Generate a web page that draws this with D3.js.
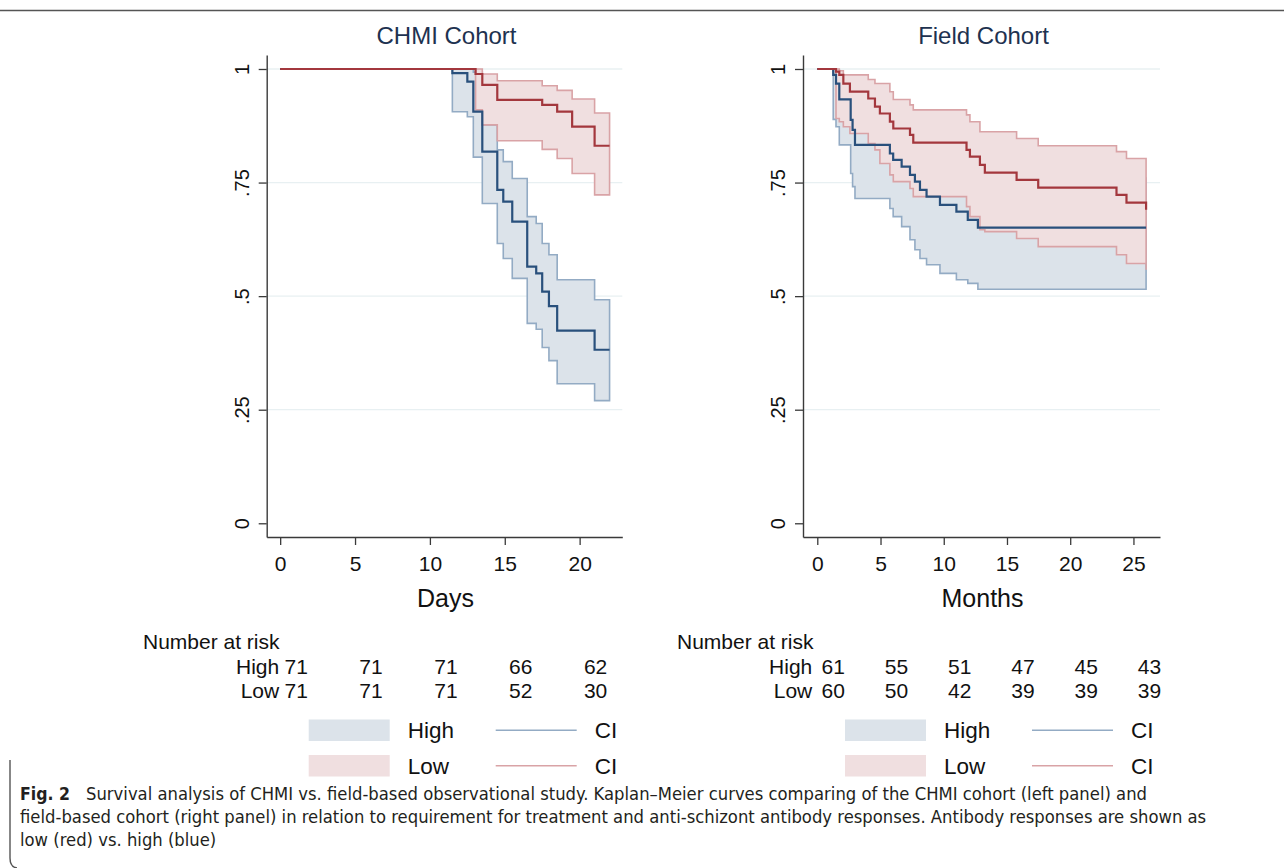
<!DOCTYPE html>
<html>
<head>
<meta charset="utf-8">
<title>Kaplan-Meier curves, CHMI vs field cohort</title>
<script src="https://d3js.org/d3.v7.min.js"></script>
<style>
  body { margin: 0; background: #fff; }
  svg text { font-family: "Liberation Sans", Arial, sans-serif; fill: #111; }
  .caption { font-family: "Liberation Sans Narrow", "DejaVu Sans Condensed", "Liberation Sans", sans-serif; fill: #231f20; }
</style>
</head>
<body>
<script>
// ---- CHMI cohort (days) ----
const chmiTicks = [0, 5, 10, 15, 20];
const chmiEnd = 22;
const chmiHighTime  = [0, 11.5, 12.5, 12.9, 13.5, 14.5, 14.9, 15.5, 16.5, 17.1, 17.5, 17.95, 18.5, 21];
const chmiHighSurv  = [1, 0.991, 0.972, 0.906, 0.818, 0.734, 0.708, 0.664, 0.565, 0.550, 0.510, 0.478, 0.424, 0.382];
const chmiHighUpper = [1, 1, 1, 0.993, 0.877, 0.822, 0.796, 0.759, 0.675, 0.660, 0.616, 0.591, 0.536, 0.492];
const chmiHighLower = [1, 0.906, 0.895, 0.806, 0.704, 0.616, 0.583, 0.539, 0.440, 0.427, 0.387, 0.358, 0.307, 0.270];
const chmiLowTime  = [0, 13.05, 13.5, 14.5, 17.5, 18.5, 19.5, 21];
const chmiLowSurv  = [1, 0.989, 0.965, 0.932, 0.921, 0.906, 0.873, 0.831];
const chmiLowUpper = [1, 1, 0.989, 0.974, 0.963, 0.953, 0.934, 0.903];
const chmiLowLower = [1, 0.91, 0.877, 0.842, 0.823, 0.803, 0.770, 0.723];
const chmiRiskHigh = [71, 71, 71, 66, 62];
const chmiRiskLow  = [71, 71, 71, 52, 30];

// ---- Field cohort (months) ----
const fieldTicks = [0, 5, 10, 15, 20, 25];
const fieldEnd = 26;
const fieldHighTime  = [0, 1.26, 1.48, 1.74, 2.64, 2.79, 2.98, 5.74, 6.0, 6.67, 7.33, 7.72, 8.12, 8.64, 9.7, 11.0, 11.9, 12.7];
const fieldHighSurv  = [1, 0.987, 0.968, 0.933, 0.888, 0.866, 0.833, 0.814, 0.800, 0.785, 0.767, 0.752, 0.734, 0.719, 0.701, 0.686, 0.668, 0.651];
const fieldHighUpper = [1, 1, 0.998, 0.98, 0.95, 0.935, 0.91, 0.895, 0.885, 0.872, 0.857, 0.845, 0.83, 0.818, 0.802, 0.79, 0.775, 0.76];
const fieldHighLower = [1, 0.889, 0.873, 0.833, 0.770, 0.741, 0.715, 0.693, 0.675, 0.653, 0.624, 0.602, 0.583, 0.569, 0.550, 0.536, 0.528, 0.515];
const fieldLowTime  = [0, 1.48, 1.74, 2.06, 2.58, 4.03, 4.56, 4.95, 5.74, 6.01, 7.33, 7.59, 11.8, 12.07, 12.86, 13.25, 15.76, 17.47, 23.66, 24.45, 26.0];
const fieldLowSurv  = [1, 0.994, 0.987, 0.968, 0.950, 0.935, 0.917, 0.902, 0.884, 0.869, 0.855, 0.838, 0.822, 0.807, 0.789, 0.772, 0.756, 0.739, 0.723, 0.706, 0.690];
const fieldLowUpper = [1, 1, 0.996, 0.987, 0.987, 0.977, 0.968, 0.968, 0.950, 0.933, 0.921, 0.910, 0.899, 0.884, 0.862, 0.862, 0.847, 0.831, 0.818, 0.803, 0.792];
const fieldLowLower = [1, 0.891, 0.884, 0.873, 0.858, 0.836, 0.822, 0.792, 0.767, 0.752, 0.737, 0.719, 0.697, 0.675, 0.646, 0.642, 0.627, 0.609, 0.591, 0.572, 0.558];
const fieldRiskHigh = [61, 55, 51, 47, 45, 43];
const fieldRiskLow  = [60, 50, 42, 39, 39, 39];

const yTicks = [0, 0.25, 0.5, 0.75, 1];
const gridTicks = [0.25, 0.5, 0.75, 1];

const captionLines = [
  "Survival analysis of CHMI vs. field-based observational study.  Kaplan\u2013Meier curves comparing of the CHMI cohort (left panel) and",
  "field-based cohort (right panel) in relation to requirement for treatment and anti-schizont antibody responses. Antibody responses are shown as",
  "low (red) vs. high (blue)"
];

// colours
const blueLine = "#29507c", redLine = "#a3373d";
const blueCI = "#93abc4", redCI = "#d9a3a6";
const blueFill = "#dce3ea", redFill = "#f0dfe0";

const svg = d3.select("body").append("svg")
  .attr("width", 1284).attr("height", 868);

// join step series
function series(time, surv, upper, lower, end) {
  const pts = time.map((t, i) => ({t: t, s: surv[i], hi: upper[i], lo: lower[i]}));
  const last = pts[pts.length - 1];
  if (last.t < end) pts.push({t: end, s: last.s, hi: last.hi, lo: last.lo});
  return pts;
}

const panels = [
  {
    title: "CHMI Cohort", xTitle: "Days", ticks: chmiTicks,
    xDomain: [-0.9, 22.85], xRange: [266.7, 622.3], riskLabelDx: -1, tableX: 143,
    high: series(chmiHighTime, chmiHighSurv, chmiHighUpper, chmiHighLower, chmiEnd),
    low: series(chmiLowTime, chmiLowSurv, chmiLowUpper, chmiLowLower, chmiEnd),
    riskHigh: chmiRiskHigh, riskLow: chmiRiskLow
  },
  {
    title: "Field Cohort", xTitle: "Months", ticks: fieldTicks,
    xDomain: [-1.13, 27.1], xRange: [803, 1160], riskLabelDx: -5, tableX: 677,
    high: series(fieldHighTime, fieldHighSurv, fieldHighUpper, fieldHighLower, fieldEnd),
    low: series(fieldLowTime, fieldLowSurv, fieldLowUpper, fieldLowLower, fieldEnd),
    riskHigh: fieldRiskHigh, riskLow: fieldRiskLow
  }
];

// y: 0 at 523.3, 1 at 69, axis runs 537 -> 55
const y = d3.scaleLinear().domain([-0.0302, 1.0308]).range([537, 55]);

panels.forEach(function(p) {
  const x = d3.scaleLinear().domain(p.xDomain).range(p.xRange);
  const x0 = p.xRange[0];
  const g = svg.append("g");

  // gridlines
  g.selectAll(".grid").data(gridTicks).enter().append("line")
    .attr("x1", x0).attr("x2", p.xRange[1])
    .attr("y1", d => y(d)).attr("y2", d => y(d))
    .attr("stroke", "#e8f0f2").attr("stroke-width", 1.3);

  const area = d3.area().curve(d3.curveStepAfter)
    .x(d => x(d.t)).y0(d => y(d.lo)).y1(d => y(d.hi));
  const line = d3.line().curve(d3.curveStepAfter)
    .x(d => x(d.t)).y(d => y(d.s));

  // CI bands: high first, low drawn over it
  g.append("path").attr("d", area(p.high))
    .attr("fill", blueFill).attr("stroke", blueCI).attr("stroke-width", 1.6);
  g.append("path").attr("d", area(p.low))
    .attr("fill", redFill).attr("stroke", redCI).attr("stroke-width", 1.6);

  g.append("path").attr("d", line(p.high))
    .attr("fill", "none").attr("stroke", blueLine).attr("stroke-width", 2.2);
  g.append("path").attr("d", line(p.low))
    .attr("fill", "none").attr("stroke", redLine).attr("stroke-width", 2.2);

  // axes
  const yAxis = g.append("g").attr("transform", `translate(${x0},0)`)
    .call(d3.axisLeft(y).tickValues(yTicks).tickSize(8).tickSizeOuter(0)
      .tickFormat(d => d === 0 ? "0" : d === 1 ? "1" : String(d).replace(/^0/, "")));
  yAxis.selectAll("text")
    .attr("x", null).attr("dy", null)
    .attr("transform", "translate(-25,0) rotate(-90)")
    .attr("text-anchor", "middle").attr("dominant-baseline", "central")
    .style("font-size", "20px");

  const xAxis = g.append("g").attr("transform", "translate(0,537)")
    .call(d3.axisBottom(x).tickValues(p.ticks).tickSize(8).tickSizeOuter(0));
  xAxis.selectAll("text").attr("y", 19).style("font-size", "21px");

  [yAxis, xAxis].forEach(a => {
    a.select(".domain").attr("stroke", "#3a3a3a").attr("stroke-width", 1.4);
    a.selectAll(".tick line").attr("stroke", "#3a3a3a").attr("stroke-width", 1.3);
    a.selectAll("text").style("font-family", "'Liberation Sans', Arial, sans-serif").attr("fill", "#111");
  });

  const cx = (x0 + p.xRange[1]) / 2;
  g.append("text").attr("x", cx + 2).attr("y", 44).attr("text-anchor", "middle")
    .style("font-size", "24px").style("fill", "#1e3250").text(p.title);
  g.append("text").attr("x", cx + 1).attr("y", 607).attr("text-anchor", "middle")
    .style("font-size", "25px").text(p.xTitle);

  // number at risk table
  g.append("text").attr("x", p.tableX).attr("y", 649).style("font-size", "21px").text("Number at risk");
  [["High", p.riskHigh, 674], ["Low", p.riskLow, 697.5]].forEach(function(row) {
    g.append("text").attr("x", x(0) + p.riskLabelDx).attr("y", row[2])
      .attr("text-anchor", "end").style("font-size", "21px").text(row[0]);
    g.selectAll(null).data(row[1]).enter().append("text")
      .attr("x", (d, i) => x(p.ticks[i]) + 16).attr("y", row[2])
      .attr("text-anchor", "middle").style("font-size", "21px").text(d => d);
  });

  // legend
  const legend = [["High", blueFill, blueCI, 719.5], ["Low", redFill, redCI, 755]];
  legend.forEach(function(l) {
    const cy = l[3] + 10.75;
    g.append("rect").attr("x", x0 + 42).attr("y", l[3]).attr("width", 81).attr("height", 21.5).attr("fill", l[1]);
    g.append("text").attr("x", x0 + 141).attr("y", cy + 8).style("font-size", "22.5px").text(l[0]);
    g.append("line").attr("x1", x0 + 229).attr("x2", x0 + 310).attr("y1", cy).attr("y2", cy)
      .attr("stroke", l[2]).attr("stroke-width", 1.6);
    g.append("text").attr("x", x0 + 328).attr("y", cy + 8).style("font-size", "22.5px").text("CI");
  });
});

// frame of the figure box
svg.append("line").attr("x1", 0).attr("x2", 1284).attr("y1", 10.5).attr("y2", 10.5)
  .attr("stroke", "#555").attr("stroke-width", 1.6);
svg.append("path").attr("d", "M10,760 V858 Q10,867 17,868")
  .attr("fill", "none").attr("stroke", "#555").attr("stroke-width", 1.4);

// caption: all lines share one horizontal squeeze, fitted on line 1
const cap = svg.append("g").style("font-size", "17.5px");
cap.append("text").attr("class", "caption").attr("x", 20).attr("y", 800)
  .style("font-weight", "bold").text("Fig. 2");
const capX = [86, 20, 20];
const capNodes = captionLines.map(function(s, i) {
  return cap.append("text").attr("class", "caption")
    .attr("x", capX[i]).attr("y", 800 + i * 23).text(s);
});
const k = 1061 / capNodes[0].node().getComputedTextLength();
capNodes.forEach(function(t) {
  t.attr("textLength", t.node().getComputedTextLength() * k).attr("lengthAdjust", "spacingAndGlyphs");
});
</script>
</body>
</html>
